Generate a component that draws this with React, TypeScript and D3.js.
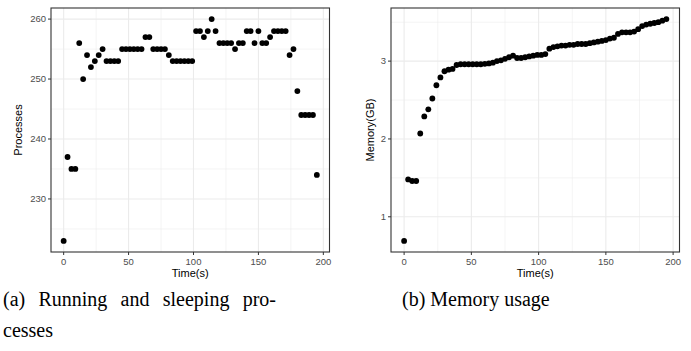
import React from "react";
import * as d3 from "d3";

const times: number[] = [
  0, 3, 6, 9, 12, 15, 18, 21, 24, 27, 30, 33, 36, 39, 42, 45, 48, 51, 54, 57, 60,
  63, 66, 69, 72, 75, 78, 81, 84, 87, 90, 93, 96, 99, 102, 105, 108, 111, 114, 117,
  120, 123, 126, 129, 132, 135, 138, 141, 144, 147, 150, 153, 156, 159, 162, 165,
  168, 171, 174, 177, 180, 183, 186, 189, 192, 195,
];

const processes: number[] = [
  223, 237, 235, 235, 256, 250, 254, 252, 253, 254, 255, 253, 253, 253, 253, 255,
  255, 255, 255, 255, 255, 257, 257, 255, 255, 255, 255, 254, 253, 253, 253, 253,
  253, 253, 258, 258, 257, 258, 260, 258, 256, 256, 256, 256, 255, 256, 256, 258,
  258, 256, 258, 256, 256, 257, 258, 258, 258, 258, 254, 255, 248, 244, 244, 244,
  244, 234,
];

const memory: number[] = [
  0.69, 1.48, 1.46, 1.46, 2.07, 2.29, 2.38, 2.52, 2.69, 2.79, 2.87, 2.89, 2.9, 2.95,
  2.96, 2.96, 2.96, 2.96, 2.96, 2.96, 2.965, 2.97, 2.98, 3.0, 3.01, 3.03, 3.05, 3.07,
  3.04, 3.04, 3.05, 3.06, 3.07, 3.08, 3.08, 3.09, 3.16, 3.18, 3.19, 3.2, 3.2, 3.21,
  3.21, 3.22, 3.22, 3.22, 3.23, 3.24, 3.25, 3.26, 3.27, 3.29, 3.3, 3.35, 3.37, 3.37,
  3.37, 3.38, 3.41, 3.45, 3.47, 3.48, 3.49, 3.5, 3.52, 3.54,
];

const xTicks: number[] = [0, 50, 100, 150, 200];
const xMinor: number[] = [25, 75, 125, 175];
const procTicks: number[] = [230, 240, 250, 260];
const procMinor: number[] = [225, 235, 245, 255];
const memTicks: number[] = [1, 2, 3];
const memMinor: number[] = [1.5, 2.5, 3.5];

const xTitle = "Time(s)";
const procTitle = "Processes";
const memTitle = "Memory(GB)";
const captionA1: string[] = ["(a)", "Running", "and", "sleeping", "pro-"];
const captionA2 = "cesses";
const captionB = "(b) Memory usage";

const SANS = "'Liberation Sans', Arial, Helvetica, sans-serif";
const SERIF = "'Liberation Serif', 'Times New Roman', Times, serif";
const CAP_SIZE = 20;

function expand(ext: [number, number]): [number, number] {
  const r = ext[1] - ext[0];
  return [ext[0] - r * 0.05, ext[1] + r * 0.05];
}

function measure(words: string[], font: string): number[] {
  try {
    const c = document.createElement("canvas");
    const ctx = c.getContext("2d");
    if (!ctx) throw new Error("no ctx");
    ctx.font = font;
    return words.map((w) => ctx.measureText(w).width);
  } catch {
    return words.map((w) => w.length * CAP_SIZE * 0.45);
  }
}

function justify(words: string[], x0: number, x1: number): number[] {
  const widths = measure(words, `${CAP_SIZE}px 'Liberation Serif'`);
  const total = widths.reduce((a, b) => a + b, 0);
  const gap = (x1 - x0 - total) / (words.length - 1);
  const xs: number[] = [];
  let cur = x0;
  widths.forEach((w) => {
    xs.push(cur);
    cur += w + gap;
  });
  return xs;
}

type PanelProps = {
  left: number;
  right: number;
  top: number;
  bottom: number;
  ys: number[];
  yTicks: number[];
  yMinor: number[];
  yTitle: string;
  yTitleX: number;
};

function Panel(p: PanelProps) {
  const x = d3
    .scaleLinear()
    .domain(expand(d3.extent(times) as [number, number]))
    .range([p.left, p.right]);
  const y = d3
    .scaleLinear()
    .domain(expand(d3.extent(p.ys) as [number, number]))
    .range([p.bottom, p.top]);
  const grid = "#ebebeb";
  return (
    <g>
      {xMinor.map((t) => (
        <line key={"xm" + t} x1={x(t)} x2={x(t)} y1={p.top} y2={p.bottom} stroke={grid} strokeWidth={0.55} />
      ))}
      {p.yMinor.map((t) => (
        <line key={"ym" + t} x1={p.left} x2={p.right} y1={y(t)} y2={y(t)} stroke={grid} strokeWidth={0.55} />
      ))}
      {xTicks.map((t) => (
        <line key={"xM" + t} x1={x(t)} x2={x(t)} y1={p.top} y2={p.bottom} stroke={grid} strokeWidth={1.1} />
      ))}
      {p.yTicks.map((t) => (
        <line key={"yM" + t} x1={p.left} x2={p.right} y1={y(t)} y2={y(t)} stroke={grid} strokeWidth={1.1} />
      ))}
      {times.map((t, i) => (
        <circle key={"pt" + i} cx={x(t)} cy={y(p.ys[i])} r={2.9} fill="#000" />
      ))}
      <rect
        x={p.left}
        y={p.top}
        width={p.right - p.left}
        height={p.bottom - p.top}
        fill="none"
        stroke="#333333"
        strokeWidth={1.1}
      />
      {xTicks.map((t) => (
        <g key={"xt" + t}>
          <line x1={x(t)} x2={x(t)} y1={p.bottom} y2={p.bottom + 3} stroke="#333333" strokeWidth={1} />
          <text x={x(t)} y={p.bottom + 12.5} textAnchor="middle" fontFamily={SANS} fontSize={9.5} fill="#4d4d4d">
            {t}
          </text>
        </g>
      ))}
      {p.yTicks.map((t) => (
        <g key={"yt" + t}>
          <line x1={p.left - 3} x2={p.left} y1={y(t)} y2={y(t)} stroke="#333333" strokeWidth={1} />
          <text
            x={p.left - 5}
            y={y(t) + 3.3}
            textAnchor="end"
            fontFamily={SANS}
            fontSize={9.5}
            fill="#4d4d4d"
          >
            {t}
          </text>
        </g>
      ))}
      <text
        x={(p.left + p.right) / 2}
        y={p.bottom + 25}
        textAnchor="middle"
        fontFamily={SANS}
        fontSize={11}
        fill="#000"
      >
        {xTitle}
      </text>
      <text
        transform={`translate(${p.yTitleX},${(p.top + p.bottom) / 2}) rotate(-90)`}
        textAnchor="middle"
        fontFamily={SANS}
        fontSize={11}
        fill="#000"
      >
        {p.yTitle}
      </text>
    </g>
  );
}

export default function App() {
  const wordX = justify(captionA1, 3, 276);
  return (
    <svg width={691} height={351} style={{ position: "absolute", left: 0, top: 0, background: "#fff" }}>
      <rect x={0} y={0} width={691} height={351} fill="#fff" />
      <Panel
        left={51}
        right={329.5}
        top={8}
        bottom={252}
        ys={processes}
        yTicks={procTicks}
        yMinor={procMinor}
        yTitle={procTitle}
        yTitleX={22}
      />
      <Panel
        left={391}
        right={679.5}
        top={8}
        bottom={252}
        ys={memory}
        yTicks={memTicks}
        yMinor={memMinor}
        yTitle={memTitle}
        yTitleX={374}
      />
      {captionA1.map((w, i) => (
        <text key={"ca" + i} x={wordX[i]} y={306} fontFamily={SERIF} fontSize={CAP_SIZE} fill="#000">
          {w}
        </text>
      ))}
      <text x={3} y={337} fontFamily={SERIF} fontSize={CAP_SIZE} fill="#000">
        {captionA2}
      </text>
      <text x={402} y={306} fontFamily={SERIF} fontSize={CAP_SIZE} fill="#000">
        {captionB}
      </text>
    </svg>
  );
}
